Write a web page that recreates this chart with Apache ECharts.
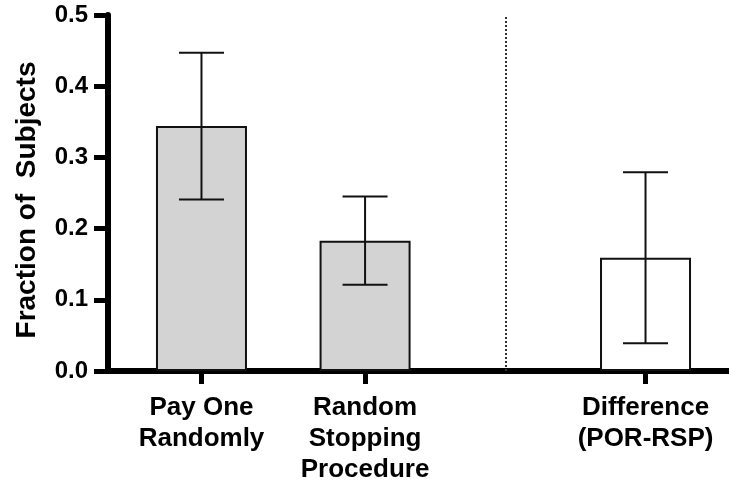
<!DOCTYPE html>
<html>
<head>
<meta charset="utf-8">
<script src="https://cdn.jsdelivr.net/npm/echarts@6/dist/echarts.min.js"></script>
<style>
  html, body { margin: 0; padding: 0; background: #fff; }
  #chart { width: 729px; height: 482px; }
</style>
</head>
<body>
<div id="chart"></div>
<script>
// Group labels, means and 95% interval bounds
const categories = ['Pay One\nRandomly', 'Random\nStopping\nProcedure', 'Difference\n(POR-RSP)'];
const means = [0.344, 0.183, 0.159];
const lowerCI = [0.241, 0.121, 0.039];
const upperCI = [0.447, 0.245, 0.279];
const yTicks = [0.0, 0.1, 0.2, 0.3, 0.4, 0.5];

// Layout of the category slots along the x axis
const SLOT_COUNT = 28;
const groupSlots = [4, 11, 23];
const dividerSlot = 17;
const fills = ['#d3d3d3', '#d3d3d3', '#ffffff'];

const FONT = '"Liberation Sans", Arial, Helvetica, sans-serif';

const slotLabels = new Array(SLOT_COUNT).fill('');
const barData = new Array(SLOT_COUNT).fill('-');
const errData = [];
groupSlots.forEach((s, i) => {
  slotLabels[s] = categories[i];
  barData[s] = { value: means[i], itemStyle: { color: fills[i] } };
  errData.push([s, lowerCI[i], upperCI[i]]);
});
const isGroup = (idx) => groupSlots.indexOf(idx) !== -1;

const chart = echarts.init(document.getElementById('chart'), null, { renderer: 'canvas' });

chart.setOption({
  animation: false,
  backgroundColor: '#ffffff',
  grid: { left: 108, top: 15, bottom: 111, width: 631, containLabel: false, outerBoundsMode: 'none' },
  xAxis: {
    type: 'category',
    data: slotLabels,
    boundaryGap: false,
    axisLine: { lineStyle: { color: '#000', width: 6 } },
    axisTick: { show: true, length: 13, interval: isGroup, lineStyle: { color: '#000', width: 5 } },
    axisLabel: {
      interval: 0,
      margin: 21,
      color: '#000',
      fontFamily: FONT,
      fontWeight: 'bold',
      fontSize: 26,
      lineHeight: 31,
      align: 'center'
    },
    splitLine: { show: false }
  },
  yAxis: {
    type: 'value',
    min: yTicks[0],
    max: yTicks[yTicks.length - 1],
    interval: 0.1,
    name: 'Fraction of  Subjects',
    nameLocation: 'middle',
    nameRotate: 90,
    nameGap: 67,
    nameTextStyle: {
      color: '#000', fontFamily: FONT, fontWeight: 'bold', fontSize: 28,
      padding: [0, 14, 0, 0]
    },
    axisLine: { show: true, lineStyle: { color: '#000', width: 6 } },
    axisTick: { show: true, length: 14, lineStyle: { color: '#000', width: 5 } },
    axisLabel: {
      margin: 20,
      color: '#000',
      fontFamily: FONT,
      fontWeight: 'bold',
      fontSize: 24,
      formatter: (v) => v.toFixed(1)
    },
    splitLine: { show: false }
  },
  series: [
    {
      type: 'bar',
      data: barData,
      barWidth: 91,
      itemStyle: { borderColor: '#111', borderWidth: 2 },
      markLine: {
        silent: true,
        symbol: 'none',
        label: { show: false },
        lineStyle: { color: '#333', width: 2, type: [2, 2] },
        data: [{ xAxis: dividerSlot }]
      },
      z: 2
    },
    {
      type: 'custom',
      data: errData,
      renderItem: (params, api) => {
        const x = api.value(0);
        const lo = api.coord([x, api.value(1)]);
        const hi = api.coord([x, api.value(2)]);
        const half = 22.5;
        const style = { stroke: '#111', lineWidth: 2 };
        return {
          type: 'group',
          children: [
            { type: 'line', shape: { x1: lo[0], y1: lo[1], x2: hi[0], y2: hi[1] }, style },
            { type: 'line', shape: { x1: hi[0] - half, y1: hi[1], x2: hi[0] + half, y2: hi[1] }, style },
            { type: 'line', shape: { x1: lo[0] - half, y1: lo[1], x2: lo[0] + half, y2: lo[1] }, style }
          ]
        };
      },
      z: 3
    }
  ]
});
</script>
</body>
</html>
